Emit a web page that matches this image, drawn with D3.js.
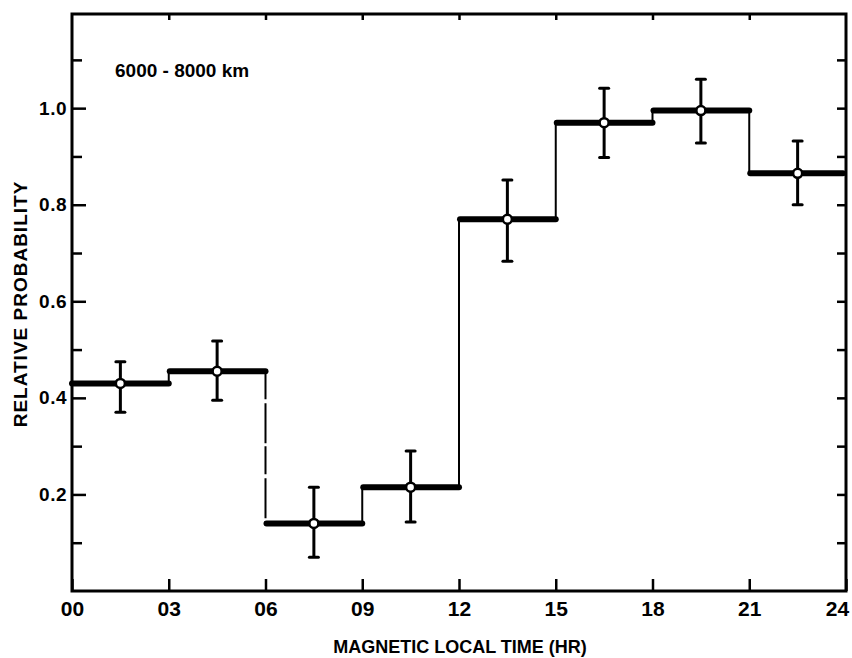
<!DOCTYPE html>
<html>
<head>
<meta charset="utf-8">
<script src="https://cdn.jsdelivr.net/npm/d3@7"></script>
<style>
  body { margin: 0; background: #fff; }
  text { fill: #000; }
</style>
</head>
<body>
<div id="chart"></div>
<script>
// bins of magnetic local time (hours)
var binStart = [0, 3, 6, 9, 12, 15, 18, 21];
var binWidth = 3;
var prob = [0.43, 0.455, 0.14, 0.215, 0.77, 0.97, 0.995, 0.865];
var errLow = [0.37, 0.395, 0.07, 0.143, 0.683, 0.898, 0.928, 0.80];
var errHigh = [0.475, 0.518, 0.215, 0.29, 0.851, 1.041, 1.06, 0.932];
var xTicks = [0, 3, 6, 9, 12, 15, 18, 21, 24];
var xTickLabels = ["00", "03", "06", "09", "12", "15", "18", "21", "24"];
var yMajor = [0.2, 0.4, 0.6, 0.8, 1.0];
var yMinor = [0.1, 0.3, 0.5, 0.7, 0.9, 1.1];
var yMax = 1.195;

var W = 852, H = 658;
var margin = {left: 72, right: 846, top: 14, bottom: 591};

var svg = d3.select("#chart")
  .append("svg")
    .attr("width", W)
    .attr("height", H);

var x = d3.scaleLinear().domain([0, 24]).range([margin.left, margin.right]);
var y = d3.scaleLinear().domain([0, yMax]).range([margin.bottom, margin.top]);

var font = "'Liberation Sans', Arial, sans-serif";

// left axis, major ticks with labels
var gLeft = svg.append("g")
  .attr("transform", "translate(" + margin.left + ",0)")
  .call(d3.axisLeft(y).tickValues(yMajor).tickSize(-14).tickSizeOuter(0).tickPadding(5)
    .tickFormat(d3.format(".1f")));
gLeft.selectAll("text").style("font-family", font).style("font-weight", "bold")
  .style("font-size", "19px").attr("letter-spacing", "0.5px");
svg.append("g")
  .attr("transform", "translate(" + margin.left + ",0)")
  .call(d3.axisLeft(y).tickValues(yMinor).tickSize(-10).tickSizeOuter(0).tickFormat(""));

// right axis, ticks only
svg.append("g")
  .attr("transform", "translate(" + margin.right + ",0)")
  .call(d3.axisRight(y).tickValues(yMinor.concat(yMajor)).tickSize(-9).tickSizeOuter(0).tickFormat(""));

// bottom axis
var gBottom = svg.append("g")
  .attr("transform", "translate(0," + margin.bottom + ")")
  .call(d3.axisBottom(x).tickValues(xTicks).tickSize(-12).tickSizeOuter(0).tickPadding(10)
    .tickFormat(function(d, i) { return xTickLabels[i]; }));
gBottom.selectAll("text").style("font-family", font)
  .style("font-weight", "bold").style("font-size", "21px")
  .attr("dx", function(d) { return d === 24 ? -9 : 0; });

// top axis, ticks only
svg.append("g")
  .attr("transform", "translate(0," + margin.top + ")")
  .call(d3.axisTop(x).tickValues(xTicks.slice(1, -1)).tickSize(-6).tickSizeOuter(0).tickFormat(""));

svg.selectAll(".tick line").attr("stroke", "#000").attr("stroke-width", 2.5);
svg.selectAll(".domain").remove();

// frame
svg.append("rect")
  .attr("x", margin.left).attr("y", margin.top)
  .attr("width", margin.right - margin.left).attr("height", margin.bottom - margin.top)
  .attr("fill", "none").attr("stroke", "#000").attr("stroke-width", 3);

// vertical connectors between bins
var steps = d3.range(1, prob.length);
svg.append("g").selectAll("line")
  .data(steps)
  .enter()
  .append("line")
    .attr("x1", function(i) { return x(binStart[i]); })
    .attr("x2", function(i) { return x(binStart[i]); })
    .attr("y1", function(i) { return y(prob[i - 1]); })
    .attr("y2", function(i) { return y(prob[i]); })
    .attr("stroke", "#000")
    .attr("stroke-width", 2)
    .attr("stroke-dasharray", function(i) { return binStart[i] === 6 ? "28,4,40,3" : null; });

// horizontal histogram bars
svg.append("g").selectAll("line")
  .data(prob)
  .enter()
  .append("line")
    .attr("x1", function(d, i) { return x(binStart[i]) + (i === 0 ? 0 : 1); })
    .attr("x2", function(d, i) { return x(binStart[i] + binWidth) - (i === prob.length - 1 ? 3 : 0); })
    .attr("y1", function(d) { return y(d); })
    .attr("y2", function(d) { return y(d); })
    .attr("stroke", "#000")
    .attr("stroke-width", 6)
    .attr("stroke-linecap", "round");

// error bars
var err = svg.append("g");
prob.forEach(function(d, i) {
  var cx = x(binStart[i] + binWidth / 2);
  err.append("line")
    .attr("x1", cx).attr("x2", cx)
    .attr("y1", y(errLow[i])).attr("y2", y(errHigh[i]))
    .attr("stroke", "#000").attr("stroke-width", 3);
  [errLow[i], errHigh[i]].forEach(function(v) {
    err.append("line")
      .attr("x1", cx - 4.5).attr("x2", cx + 4.5)
      .attr("y1", y(v)).attr("y2", y(v))
      .attr("stroke", "#000").attr("stroke-width", 3)
      .attr("stroke-linecap", "round");
  });
});

// points
svg.append("g").selectAll("circle")
  .data(prob)
  .enter()
  .append("circle")
    .attr("cx", function(d, i) { return x(binStart[i] + binWidth / 2); })
    .attr("cy", function(d) { return y(d); })
    .attr("r", 4.5)
    .attr("fill", "#fff")
    .attr("stroke", "#000")
    .attr("stroke-width", 2.5);

// annotation
svg.append("text")
  .attr("x", 115).attr("y", 77)
  .style("font-family", font).style("font-weight", "bold").style("font-size", "19px")
  .text("6000 - 8000 km");

// axis titles
svg.append("text")
  .attr("x", 460).attr("y", 653)
  .attr("text-anchor", "middle")
  .style("font-family", font).style("font-weight", "bold").style("font-size", "18px")
  .text("MAGNETIC LOCAL TIME (HR)");

svg.append("text")
  .attr("transform", "translate(27,304) rotate(-90)")
  .attr("text-anchor", "middle")
  .style("font-family", font).style("font-weight", "bold").style("font-size", "19px")
  .attr("letter-spacing", "1px")
  .text("RELATIVE PROBABILITY");
</script>
</body>
</html>
